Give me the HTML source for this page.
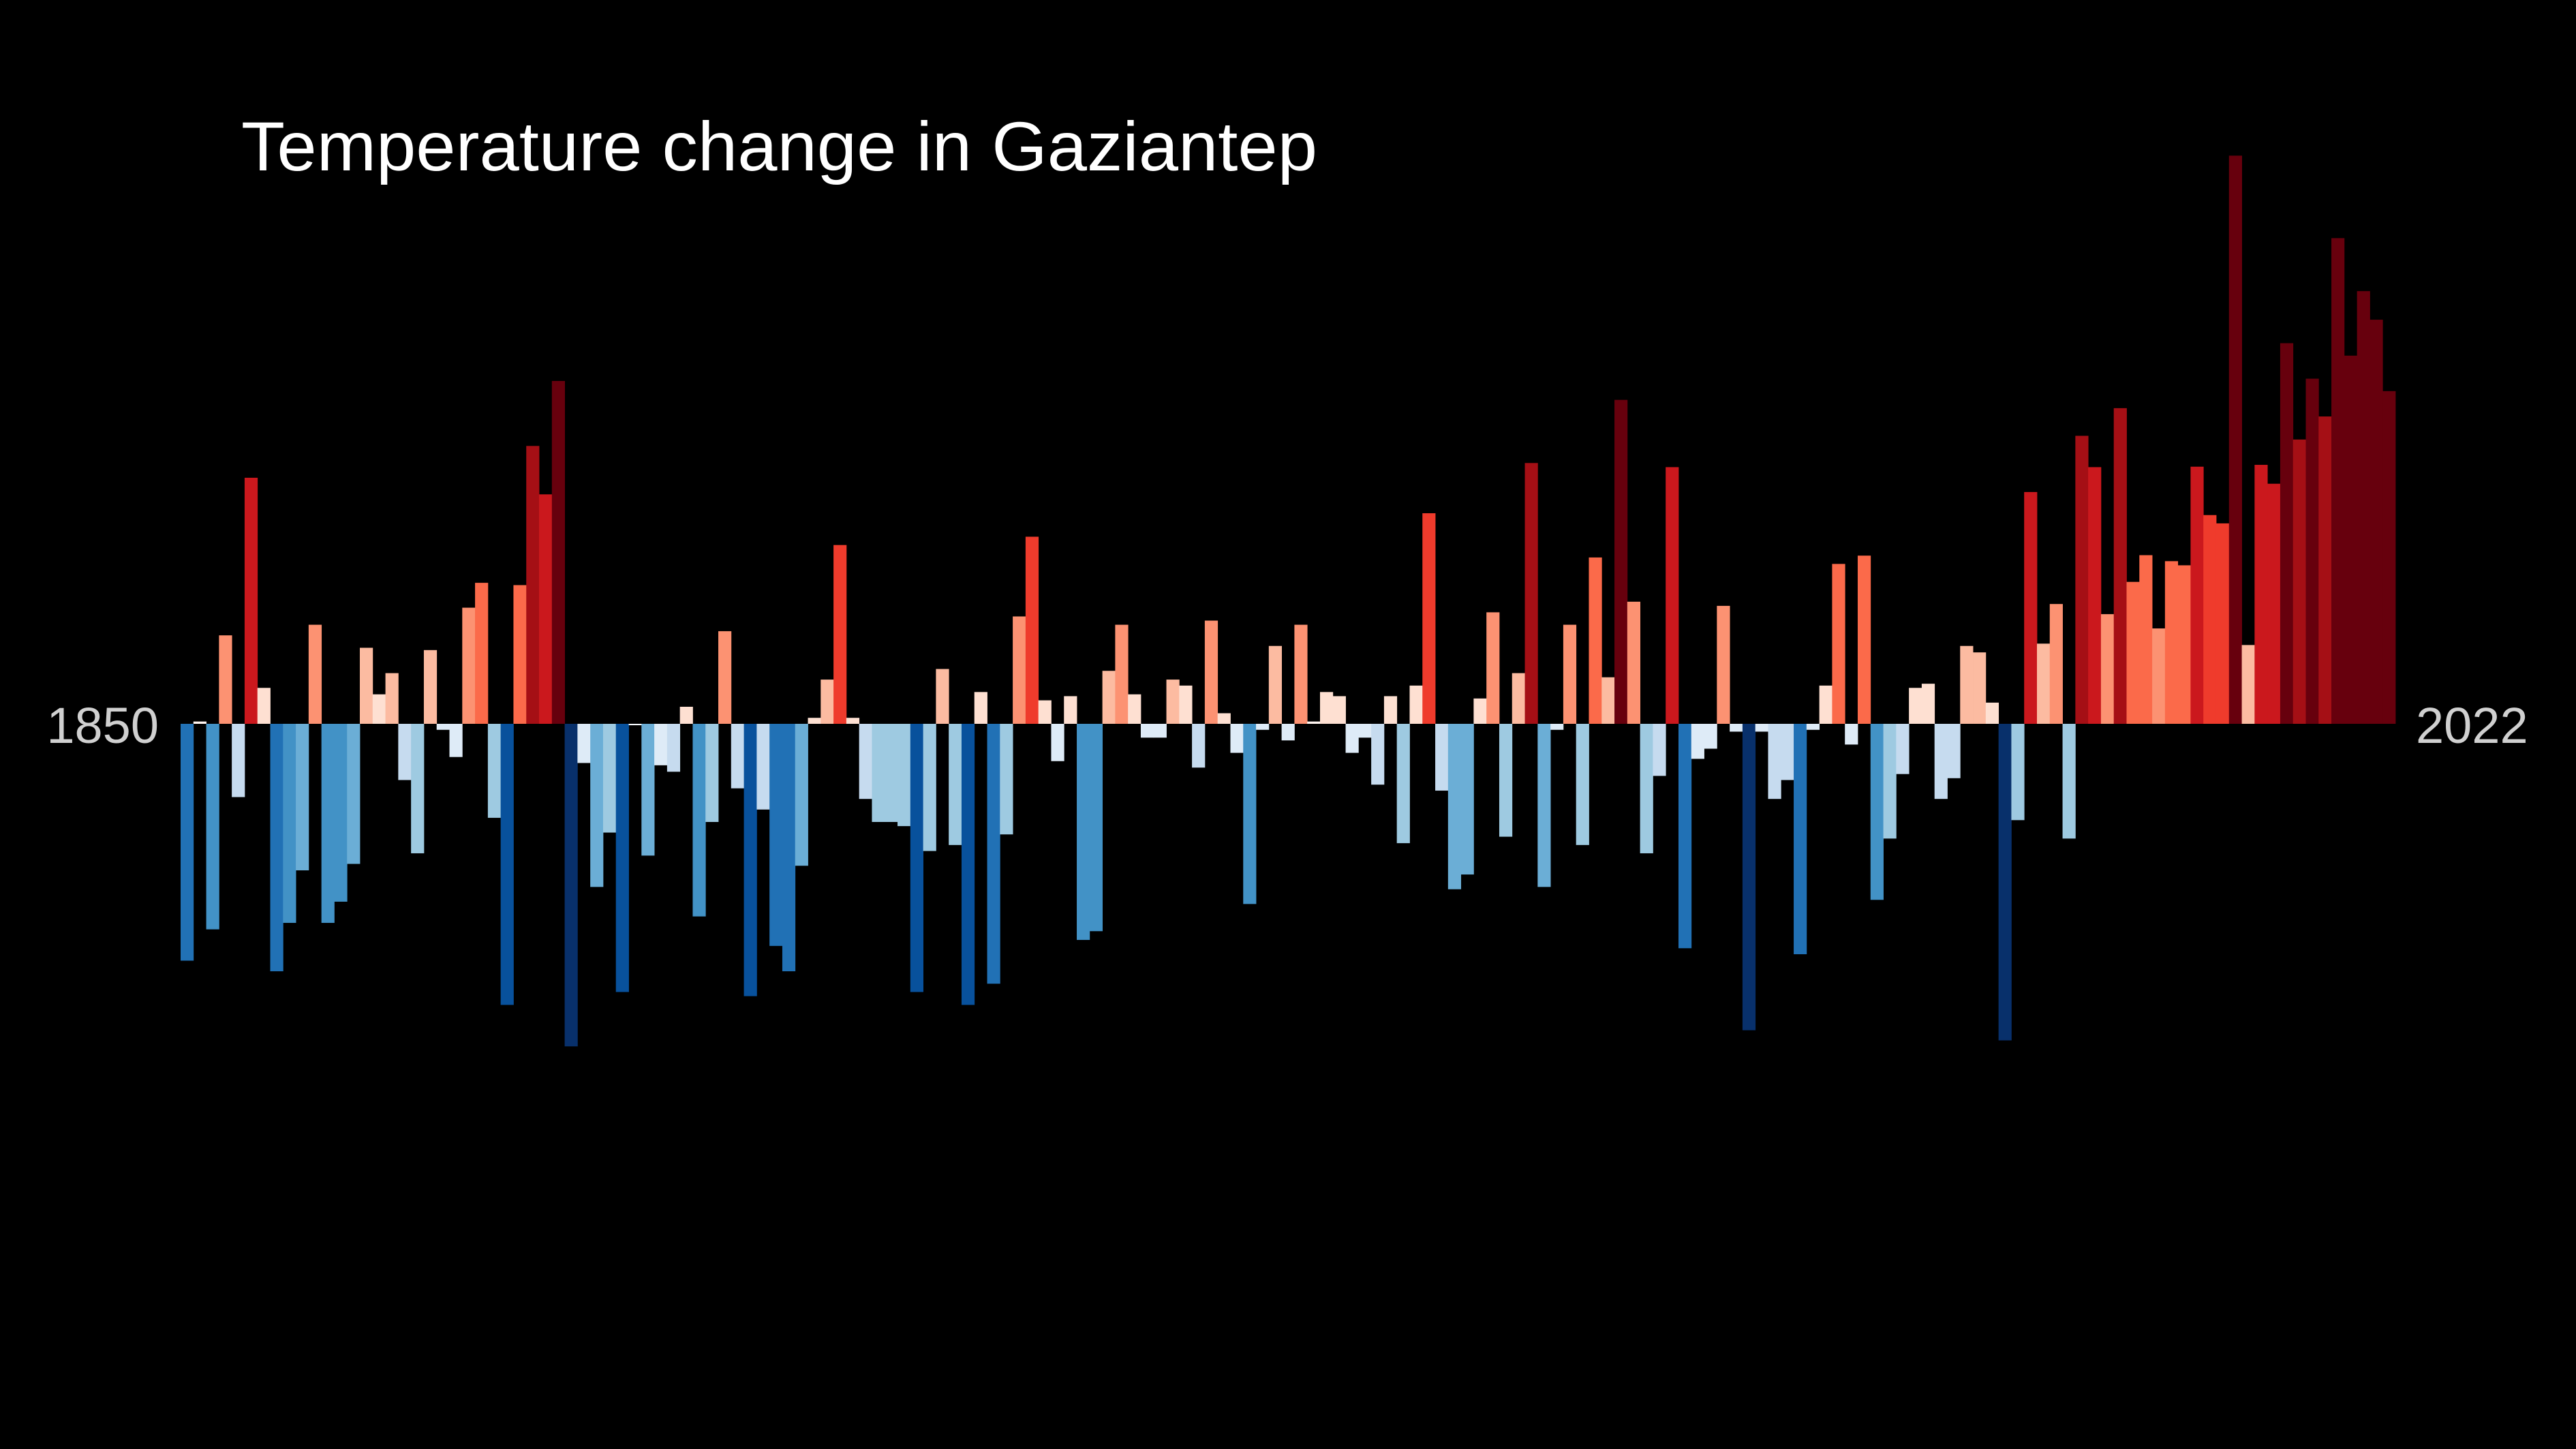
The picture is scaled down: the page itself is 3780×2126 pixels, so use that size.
<!DOCTYPE html>
<html><head><meta charset="utf-8"><style>
html,body{margin:0;padding:0;background:#000;}
svg{display:block;}
</style></head><body>
<svg id="chart" width="3780" height="2126" viewBox="0 0 3780 2126" xmlns="http://www.w3.org/2000/svg">
<rect width="3780" height="2126" fill="#000"/>
<text x="354" y="250" font-family="Liberation Sans, Arial, sans-serif" font-size="102" fill="#fff" textLength="1579" lengthAdjust="spacingAndGlyphs">Temperature change in Gaziantep</text>
<text x="233" y="1090" text-anchor="end" font-family="Liberation Sans, Arial, sans-serif" font-size="74" fill="#d0d0d0">1850</text>
<text x="3545" y="1090" font-family="Liberation Sans, Arial, sans-serif" font-size="74" fill="#d0d0d0">2022</text>
<g id="bars"></g>
</svg>
<script>
const startYear = 1850;
const anomalies = [
-5.14,0.05,-4.46,1.92,-1.59,5.34,0.78,-5.37,-4.32,-3.18,
2.15,-4.32,-3.86,-3.04,1.65,0.64,1.10,-1.22,-2.81,1.60,
-0.13,-0.72,2.52,3.06,-2.04,-6.10,3.01,6.03,4.98,7.44,
-7.00,-0.85,-3.54,-2.36,-5.82,-0.03,-2.86,-0.90,-1.04,0.37,
-4.18,-2.13,2.01,-1.40,-5.91,-1.86,-4.82,-5.37,-3.08,0.13,
0.96,3.88,0.13,-1.63,-2.13,-2.13,-2.22,-5.82,-2.76,1.19,
-2.63,-6.10,0.69,-5.64,-2.40,2.33,4.06,0.51,-0.81,0.60,
-4.69,-4.50,1.15,2.15,0.64,-0.30,-0.30,0.96,0.83,-0.95,
2.24,0.23,-0.63,-3.91,-0.13,1.69,-0.36,2.15,0.05,0.69,
0.60,-0.63,-0.30,-1.32,0.60,-2.59,0.83,4.57,-1.45,-3.59,
-3.27,0.55,2.42,-2.45,1.10,5.66,-3.54,-0.13,2.15,-2.63,
3.61,1.01,7.03,2.65,-2.81,-1.13,5.57,-4.87,-0.76,-0.54,
2.56,-0.17,-6.65,-0.17,-1.63,-1.22,-5.00,-0.13,0.83,3.47,
-0.45,3.65,-3.82,-2.49,-1.09,0.78,0.87,-1.63,-1.18,1.69,
1.55,0.46,-6.87,-2.09,5.03,1.74,2.60,-2.49,6.25,5.57,
2.38,6.85,3.08,3.66,2.07,3.53,3.44,5.58,4.53,4.35,
12.33,1.71,5.62,5.21,8.26,6.17,7.49,6.67,10.54,7.99,
9.39,8.77,7.22
];
const redThresholds = [0.1,0.9,1.8,2.9,3.78,4.8,5.63,7.0];
const redColors = ["#fff5f0","#fee0d2","#fcbba1","#fc9272","#fb6a4a","#ef3b2c","#cb181d","#a50f15","#67000d"];
const blueThresholds = [0.1,0.92,1.95,2.83,3.7,4.75,5.75,6.4];
const blueColors = ["#f7fbff","#deebf7","#c6dbef","#9ecae1","#6baed6","#4292c6","#2171b5","#08519c","#08306b"];

const X0 = 265, X1 = 3515, ZERO_Y = 1062, PX_PER_UNIT = 67.61;
const n = anomalies.length;
const bw = (X1 - X0) / n;
function xPos(i){ return X0 + i * bw; }
function yPos(v){ return ZERO_Y - v * PX_PER_UNIT; }
function colorFor(v){
  const a = Math.abs(v);
  const th = v >= 0 ? redThresholds : blueThresholds;
  const cs = v >= 0 ? redColors : blueColors;
  let k = 0;
  while (k < th.length && a >= th[k]) k++;
  return cs[k];
}
const g = document.getElementById('bars');
const NS = "http://www.w3.org/2000/svg";
anomalies.forEach((v, i) => {
  const r = document.createElementNS(NS, 'rect');
  const y0 = yPos(Math.max(v, 0)), y1 = yPos(Math.min(v, 0));
  r.setAttribute('x', xPos(i).toFixed(2));
  r.setAttribute('y', y0.toFixed(2));
  r.setAttribute('width', (bw + 0.4).toFixed(2));
  r.setAttribute('height', Math.max(y1 - y0, 1).toFixed(2));
  r.setAttribute('fill', colorFor(v));
  
  
  g.appendChild(r);
});
</script>
</body></html>
